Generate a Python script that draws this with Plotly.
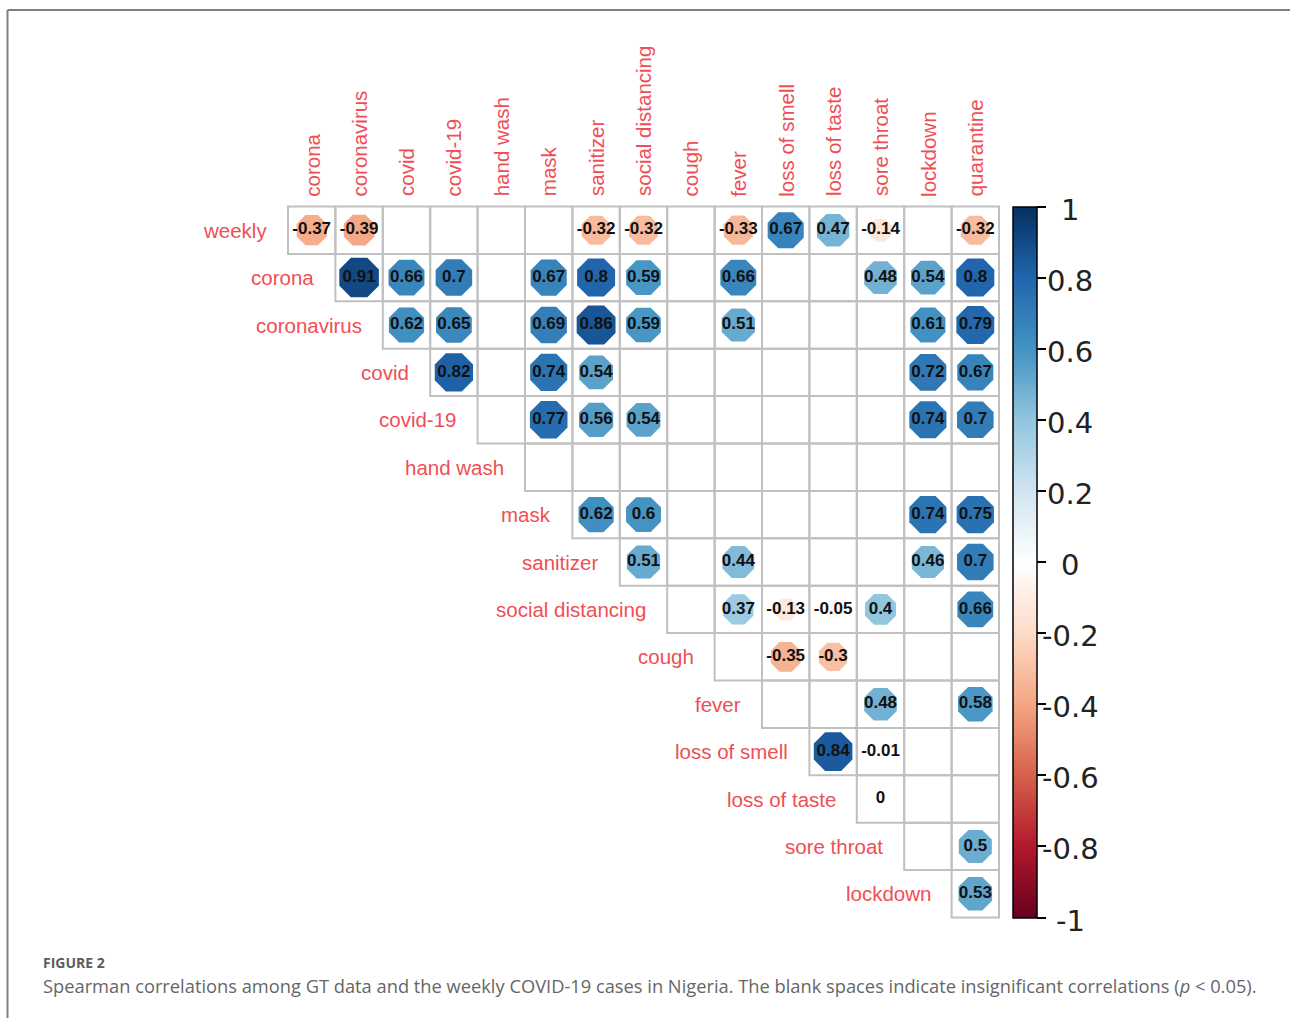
import plotly.graph_objects as go

# ---------------- data ----------------
row_names = ["weekly", "corona", "coronavirus", "covid", "covid-19", "hand wash", "mask",
             "sanitizer", "social distancing", "cough", "fever", "loss of smell",
             "loss of taste", "sore throat", "lockdown"]
col_names = ["corona", "coronavirus", "covid", "covid-19", "hand wash", "mask", "sanitizer",
             "social distancing", "cough", "fever", "loss of smell", "loss of taste",
             "sore throat", "lockdown", "quarantine"]

# each row i covers columns i..14 ; None = insignificant (blank)
r_weekly = [-0.37, -0.39, None, None, None, None, -0.32, -0.32, None, -0.33, 0.67, 0.47, -0.14, None, -0.32]
r_corona = [0.91, 0.66, 0.7, None, 0.67, 0.8, 0.59, None, 0.66, None, None, 0.48, 0.54, 0.8]
r_coronavirus = [0.62, 0.65, None, 0.69, 0.86, 0.59, None, 0.51, None, None, None, 0.61, 0.79]
r_covid = [0.82, None, 0.74, 0.54, None, None, None, None, None, None, 0.72, 0.67]
r_covid19 = [None, 0.77, 0.56, 0.54, None, None, None, None, None, 0.74, 0.7]
r_handwash = [None, None, None, None, None, None, None, None, None, None]
r_mask = [0.62, 0.6, None, None, None, None, None, 0.74, 0.75]
r_sanitizer = [0.51, None, 0.44, None, None, None, 0.46, 0.7]
r_social = [None, 0.37, -0.13, -0.05, 0.4, None, 0.66]
r_cough = [None, -0.35, -0.3, None, None, None]
r_fever = [None, None, 0.48, None, 0.58]
r_smell = [0.84, -0.01, None, None]
r_taste = [0.0, None, None]
r_sore = [None, 0.5]
r_lockdown = [0.53]

rows = [r_weekly, r_corona, r_coronavirus, r_covid, r_covid19, r_handwash, r_mask,
        r_sanitizer, r_social, r_cough, r_fever, r_smell, r_taste, r_sore, r_lockdown]

cbar_ticks = [1, 0.8, 0.6, 0.4, 0.2, 0, -0.2, -0.4, -0.6, -0.8, -1]
cbar_labels = ["1", "0.8", "0.6", "0.4", "0.2", "0", "-0.2", "-0.4", "-0.6", "-0.8", "-1"]

# ---------------- layout constants ----------------
W, H = 1290, 1018
CELL = 47.4
LEFT = 288.0
TOP = 206.5
LABEL_RED = "#f04e55"

rdbu = ["#67001F", "#B2182B", "#D6604D", "#F4A582", "#FDDBC7", "#FFFFFF",
        "#D1E5F0", "#92C5DE", "#4393C3", "#2166AC", "#053061"]
colorscale = [[k / 10, c] for k, c in enumerate(rdbu)]


def fmt(v):
    s = f"{v:.2f}".rstrip("0").rstrip(".")
    return "0" if s in ("-0", "") else s


xs, ys, vals, texts, sizes = [], [], [], [], []
shapes = []
for i, row in enumerate(rows):
    for k, v in enumerate(row):
        j = i + k
        shapes.append(dict(type="rect", xref="x", yref="y", x0=j - 0.5, x1=j + 0.5,
                           y0=i - 0.5, y1=i + 0.5, line=dict(color="#c0c0c0", width=2),
                           fillcolor="rgba(0,0,0,0)", layer="below"))
        if v is not None:
            xs.append(j)
            ys.append(i)
            vals.append(v)
            texts.append(fmt(v))
            sizes.append(44 * abs(v) ** 0.3)

# figure frame lines
shapes.append(dict(type="line", xref="paper", yref="paper", x0=7.5 / W, x1=7.5 / W,
                   y0=0, y1=1 - 10 / H, line=dict(color="#808080", width=2)))
shapes.append(dict(type="line", xref="paper", yref="paper", x0=7.5 / W, x1=1,
                   y0=1 - 10 / H, y1=1 - 10 / H, line=dict(color="#808080", width=2)))

bar_top, bar_bot = TOP, TOP + 15 * CELL
bar_len = bar_bot - bar_top

fig = go.Figure()
fig.add_trace(go.Scatter(
    x=xs, y=ys, mode="markers+text", text=texts, textposition="middle center",
    textfont=dict(family="Liberation Sans, Arial", size=17, color="#111111", weight="bold"),
    marker=dict(symbol="octagon", size=sizes, color=vals, colorscale=colorscale, opacity=1,
                cmin=-1, cmax=1, line=dict(width=0),
                colorbar=dict(x=1013 / W, xanchor="left", xpad=0, ypad=0,
                              y=1 - (bar_top + bar_bot) / 2 / H, yanchor="middle",
                              lenmode="pixels", len=bar_len, thickness=24,
                              outlinecolor="black", outlinewidth=1.5,
                              tickmode="array", tickvals=cbar_ticks,
                              ticks="outside", ticklen=9, tickwidth=1.5, tickcolor="black",
                              showticklabels=False)),
    hoverinfo="skip", showlegend=False))

annotations = []
for i, name in enumerate(row_names):
    annotations.append(dict(x=i - 0.5, y=i, xref="x", yref="y", text=name, showarrow=False,
                            xanchor="right", yanchor="middle", xshift=-19,
                            font=dict(family="Liberation Sans, Arial", size=20.5, color=LABEL_RED)))
for j, name in enumerate(col_names):
    annotations.append(dict(x=j, y=-0.5, xref="x", yref="y", text=name, showarrow=False,
                            textangle=-90, xanchor="center", yanchor="bottom", yshift=8,
                            font=dict(family="Liberation Sans, Arial", size=20.5, color=LABEL_RED)))
for v, lab in zip(cbar_ticks, cbar_labels):
    py = bar_bot - (v + 1) / 2 * bar_len
    annotations.append(dict(x=1070 / W, y=1 - py / H, xref="paper", yref="paper", text=lab,
                            showarrow=False, xanchor="center", yanchor="middle", yshift=-3,
                            font=dict(family="DejaVu Sans", size=29, color="#222222")))

annotations.append(dict(x=41 / W, y=1 - 962 / H, xref="paper", yref="paper", text="<b>FIGURE 2</b>",
                        showarrow=False, xanchor="left", yanchor="middle",
                        font=dict(family="Open Sans", size=14, color="#5c5c5c")))
annotations.append(dict(x=41 / W, y=1 - 985 / H, xref="paper", yref="paper",
                        text="Spearman correlations among GT data and the weekly COVID-19 cases in Nigeria. "
                             "The blank spaces indicate insignificant correlations (<i>p</i> &lt; 0.05).",
                        showarrow=False, xanchor="left", yanchor="middle",
                        font=dict(family="Open Sans", size=18.3, color="#666666")))

x_lo = -LEFT / CELL - 0.5
x_hi = (W - LEFT) / CELL - 0.5
y_lo = -TOP / CELL - 0.5
y_hi = (H - TOP) / CELL - 0.5

fig.update_layout(
    width=W, height=H, margin=dict(l=0, r=0, t=0, b=0, autoexpand=False),
    paper_bgcolor="white", plot_bgcolor="white",
    xaxis=dict(range=[x_lo, x_hi], visible=False, fixedrange=True),
    yaxis=dict(range=[y_hi, y_lo], visible=False, fixedrange=True),
    shapes=shapes, annotations=annotations,
)

fig.write_html("out.html")
